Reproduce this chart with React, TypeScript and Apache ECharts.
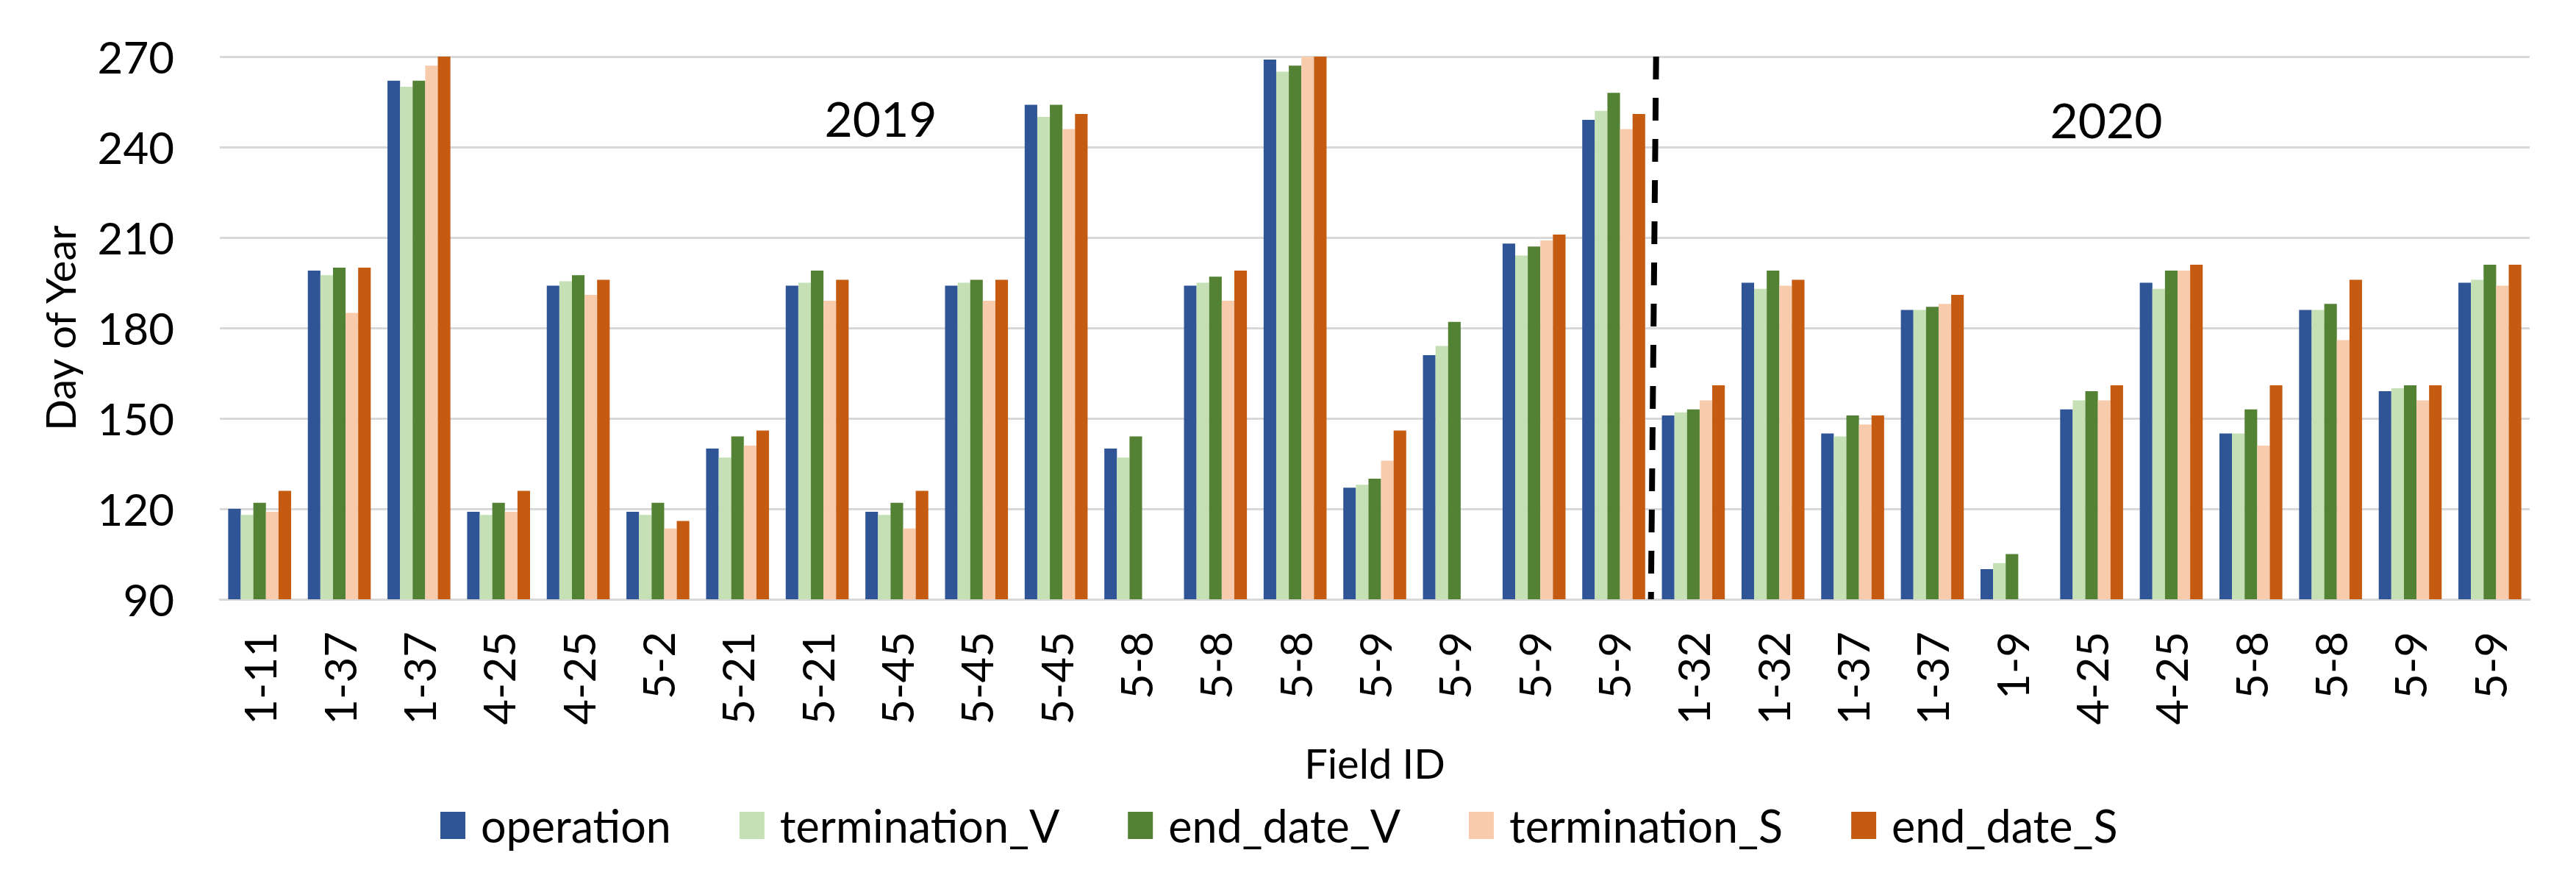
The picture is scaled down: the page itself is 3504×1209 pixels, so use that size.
import React, { useEffect, useRef } from "react";
import * as echarts from "echarts";

const categories = ["1-11","1-37","1-37","4-25","4-25","5-2","5-21","5-21","5-45","5-45","5-45","5-8","5-8","5-8","5-9","5-9","5-9","5-9","1-32","1-32","1-37","1-37","1-9","4-25","4-25","5-8","5-8","5-9","5-9"];
const operation = [120,199,262,119,194,119,140,194,119,194,254,140,194,269,127,171,208,249,151,195,145,186,100,153,195,145,186,159,195];
const terminationV = [118,197.5,260,118,195.5,118,137,195,118,195,250,137,195,265,128,174,204,252,152,193,144,186,102,156,193,145,186,160,196];
const endDateV = [122,200,262,122,197.5,122,144,199,122,196,254,144,197,267,130,182,207,258,153,199,151,187,105,159,199,153,188,161,201];
const terminationS = [119,185,267,119,191,113.5,141,189,113.5,189,246,null,189,270,136,null,209,246,156,194,148,188,null,156,199,141,176,156,194];
const endDateS = [126,200,270,126,196,116,146,196,126,196,251,null,199,270,146,null,211,251,161,196,151,191,null,161,201,161,196,161,201];
const seriesNames = ["operation","termination_V","end_date_V","termination_S","end_date_S"];
const seriesColors = ["#2F5597","#C5E0B4","#548235","#F8CBAD","#C55A11"];
const yearLabels = ["2019","2020"];
const splitIndex = 17; // last 2019 category index

const FONT = "Lato";

export default function App() {
  const ref = useRef<HTMLDivElement>(null);
  useEffect(() => {
    if (!ref.current) return;
    const chart = echarts.init(ref.current, null, { renderer: "svg" });
    const data = [operation, terminationV, endDateV, terminationS, endDateS];
    chart.setOption({
      animation: false,
      backgroundColor: "#ffffff",
      textStyle: { fontFamily: FONT },
      grid: { left: 299, right: 63, top: 77, bottom: 394, containLabel: false },
      legend: {
        data: seriesNames,
        left: 594,
        top: 1087,
        itemWidth: 34,
        itemHeight: 37,
        itemGap: 93,
        icon: "rect",
        textStyle: { fontSize: 61, color: "#000", fontFamily: FONT, padding: [0, 0, 0, 16] },
      },
      xAxis: {
        type: "category",
        data: categories,
        name: "Field ID",
        nameLocation: "middle",
        nameGap: 194,
        nameTextStyle: { fontSize: 56, color: "#000", fontFamily: FONT },
        axisLine: { show: true, lineStyle: { color: "#d9d9d9", width: 3 } },
        axisTick: { show: false },
        axisLabel: { rotate: 90, fontSize: 60, color: "#000", margin: 44, interval: 0, fontFamily: FONT },
      },
      yAxis: {
        type: "value",
        min: 90,
        max: 270,
        interval: 30,
        name: "Day of Year",
        nameLocation: "middle",
        nameRotate: 90,
        nameGap: 190,
        nameTextStyle: { fontSize: 56, color: "#000", fontFamily: FONT },
        axisLine: { show: false },
        axisTick: { show: false },
        axisLabel: { fontSize: 60, color: "#000", margin: 62, fontFamily: FONT },
        splitLine: { show: true, lineStyle: { color: "#d9d9d9", width: 3 } },
      },
      series: seriesNames.map((name, i) => ({
        name,
        type: "bar",
        data: data[i],
        barGap: "0%",
        barCategoryGap: "21%",
        itemStyle: { color: seriesColors[i] },
      })),
    });
    const xa = chart.convertToPixel({ xAxisIndex: 0 }, splitIndex) as number;
    const xb = chart.convertToPixel({ xAxisIndex: 0 }, splitIndex + 1) as number;
    const mid = (xa + xb) / 2;
    const yTop = chart.convertToPixel({ yAxisIndex: 0 }, 270) as number;
    const yBot = chart.convertToPixel({ yAxisIndex: 0 }, 90) as number;
    chart.setOption({
      graphic: [
        {
          type: "line",
          shape: { x1: mid + 3.5, y1: yTop, x2: mid - 3.5, y2: yBot },
          style: { stroke: "#000", lineWidth: 8, lineDash: [31, 25] },
          z: 100,
        },
        {
          type: "text",
          x: 1198,
          y: 160,
          style: { text: yearLabels[0], fontSize: 66, fontFamily: FONT, fill: "#000", align: "center", verticalAlign: "middle" },
          z: 100,
        },
        {
          type: "text",
          x: 2865,
          y: 162,
          style: { text: yearLabels[1], fontSize: 66, fontFamily: FONT, fill: "#000", align: "center", verticalAlign: "middle" },
          z: 100,
        },
      ],
    });
    return () => chart.dispose();
  }, []);
  return (
    <div
      ref={ref}
      style={{ position: "fixed", left: 0, top: 0, width: 3504, height: 1209, background: "#fff" }}
    />
  );
}
